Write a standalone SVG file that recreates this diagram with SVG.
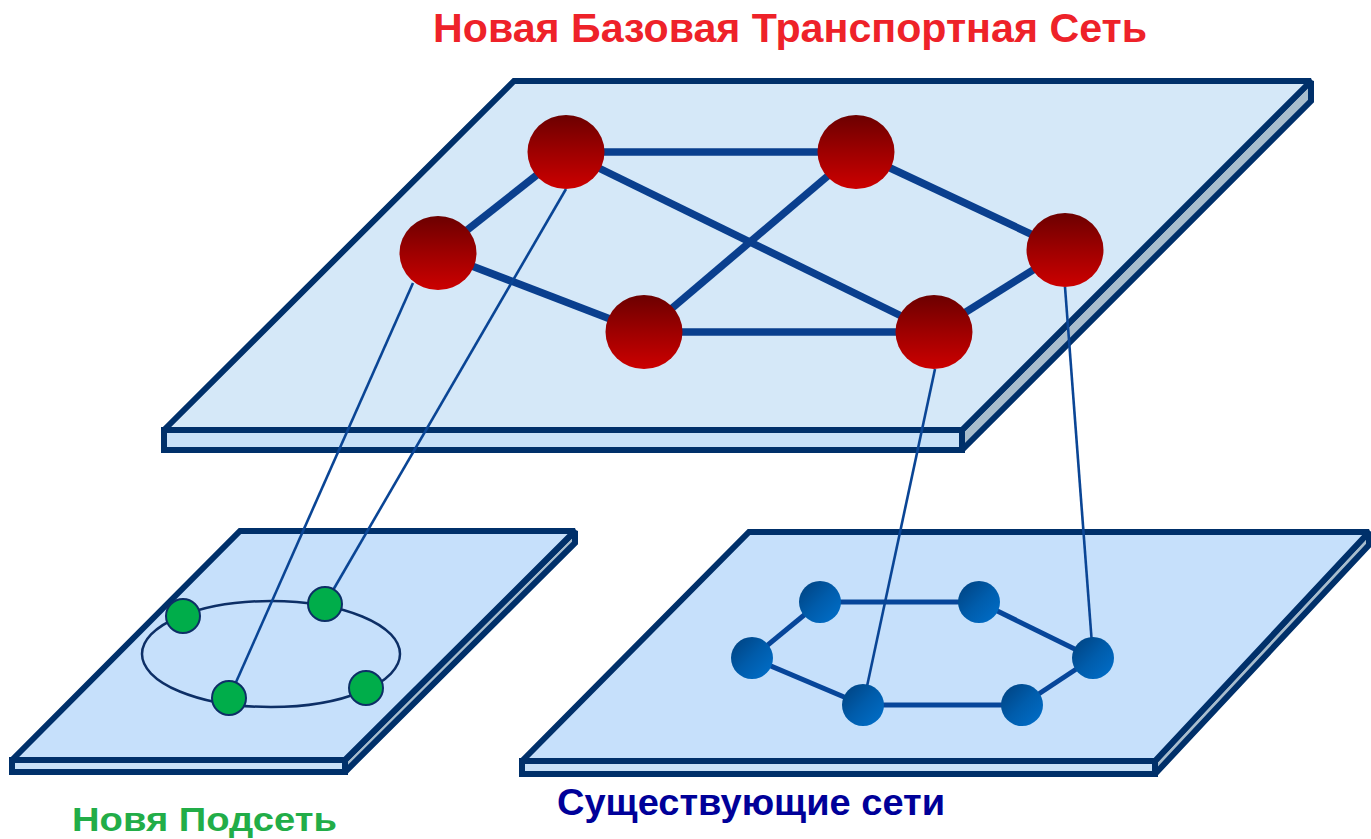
<svg xmlns="http://www.w3.org/2000/svg" width="1371" height="839" viewBox="0 0 1371 839">
<defs>
<linearGradient id="red" x1="0" y1="0" x2="0" y2="1">
<stop offset="0" stop-color="#6c0000"/>
<stop offset="0.5" stop-color="#9e0000"/>
<stop offset="1" stop-color="#cc0000"/>
</linearGradient>
<linearGradient id="blue" x1="0" y1="0" x2="1" y2="1">
<stop offset="0" stop-color="#00407d"/>
<stop offset="0.5" stop-color="#005cab"/>
<stop offset="1" stop-color="#0070cc"/>
</linearGradient>
</defs>
<style>
.plane{stroke:#00306a;stroke-width:6;stroke-linejoin:miter;stroke-miterlimit:2}
.top{fill:#d5e8f8}
.topB{fill:#c6e0fb}
.front{fill:#c8e1f8}
.side{fill:#a8bdcd}
.thick{stroke:#0a3f8e;stroke-width:7.5;fill:none}
.mid{stroke:#07469a;stroke-width:5;fill:none}
.thin{stroke:#0a4595;stroke-width:2.6;fill:none}
.rnode{fill:url(#red)}
.gnode{fill:#00ad4a;stroke:#0d2f66;stroke-width:2}
.bnode{fill:url(#blue)}
.ring{fill:none;stroke:#0d2f66;stroke-width:2.5}
.lbl{font-family:"Liberation Sans",Arial,sans-serif;font-weight:bold}
</style>
<g id="plane-core">
<polygon class="plane side" points="962,430 1311,81 1311,101 962,450"/>
<rect class="plane front" x="164" y="430" width="798" height="20"/>
<polygon class="plane top" points="514,81 1311,81 962,430 164,430"/>
</g>
<g id="plane-new-subnet">
<polygon class="plane side" points="345,760 575,531 575,543 345,772"/>
<rect class="plane front" x="12" y="760" width="333" height="12"/>
<polygon class="plane topB" points="240,531 575,531 345,760 12,760"/>
</g>
<g id="plane-existing">
<polygon class="plane side" points="1155,761 1369,532 1369,545 1155,774"/>
<rect class="plane front" x="522" y="761" width="633" height="13"/>
<polygon class="plane topB" points="749,532 1369,532 1155,761 522,761"/>
</g>
<g id="connectors">
<line class="thick" x1="566" y1="152" x2="856" y2="152"/>
<line class="thick" x1="566" y1="152" x2="438" y2="253"/>
<line class="thick" x1="566" y1="152" x2="934" y2="332"/>
<line class="thick" x1="856" y1="152" x2="644" y2="332"/>
<line class="thick" x1="856" y1="152" x2="1065" y2="250"/>
<line class="thick" x1="438" y1="253" x2="644" y2="332"/>
<line class="thick" x1="644" y1="332" x2="934" y2="332"/>
<line class="thick" x1="934" y1="332" x2="1065" y2="250"/>
<ellipse class="ring" cx="271" cy="654" rx="129" ry="53"/>
<line class="mid" x1="820" y1="602" x2="979" y2="602"/>
<line class="mid" x1="979" y1="602" x2="1093" y2="658"/>
<line class="mid" x1="1093" y1="658" x2="1022" y2="705"/>
<line class="mid" x1="1022" y1="705" x2="863" y2="705"/>
<line class="mid" x1="863" y1="705" x2="752" y2="658"/>
<line class="mid" x1="752" y1="658" x2="820" y2="602"/>
<line class="thin" x1="413" y1="283" x2="229" y2="698"/>
<line class="thin" x1="566" y1="189" x2="325" y2="604"/>
<line class="thin" x1="935" y1="369" x2="863" y2="705"/>
<line class="thin" x1="1065" y1="287" x2="1093" y2="658"/>
</g>
<g id="core-nodes">
<ellipse id="core-1" class="rnode" cx="566" cy="152" rx="38.5" ry="37"/>
<ellipse id="core-2" class="rnode" cx="856" cy="152" rx="38.5" ry="37"/>
<ellipse id="core-3" class="rnode" cx="438" cy="253" rx="38.5" ry="37"/>
<ellipse id="core-4" class="rnode" cx="1065" cy="250" rx="38.5" ry="37"/>
<ellipse id="core-5" class="rnode" cx="644" cy="332" rx="38.5" ry="37"/>
<ellipse id="core-6" class="rnode" cx="934" cy="332" rx="38.5" ry="37"/>
</g>
<g id="subnet-nodes">
<circle id="g-1" class="gnode" cx="183" cy="616" r="17"/>
<circle id="g-2" class="gnode" cx="325" cy="604" r="17"/>
<circle id="g-3" class="gnode" cx="229" cy="698" r="17"/>
<circle id="g-4" class="gnode" cx="366" cy="688" r="17"/>
</g>
<g id="existing-nodes">
<circle id="b-1" class="bnode" cx="820" cy="602" r="21"/>
<circle id="b-2" class="bnode" cx="979" cy="602" r="21"/>
<circle id="b-3" class="bnode" cx="752" cy="658" r="21"/>
<circle id="b-4" class="bnode" cx="1093" cy="658" r="21"/>
<circle id="b-5" class="bnode" cx="863" cy="705" r="21"/>
<circle id="b-6" class="bnode" cx="1022" cy="705" r="21"/>
</g>
<g id="labels">
<text class="lbl" x="433" y="42" font-size="40" fill="#ee2229" textLength="714" lengthAdjust="spacingAndGlyphs">Новая Базовая Транспортная Сеть</text>
<text class="lbl" x="72" y="831" font-size="34" fill="#22ad48" textLength="265" lengthAdjust="spacingAndGlyphs">Новя Подсеть</text>
<text class="lbl" x="557" y="815" font-size="36" fill="#000099" textLength="388" lengthAdjust="spacingAndGlyphs">Существующие сети</text>
</g>
</svg>
